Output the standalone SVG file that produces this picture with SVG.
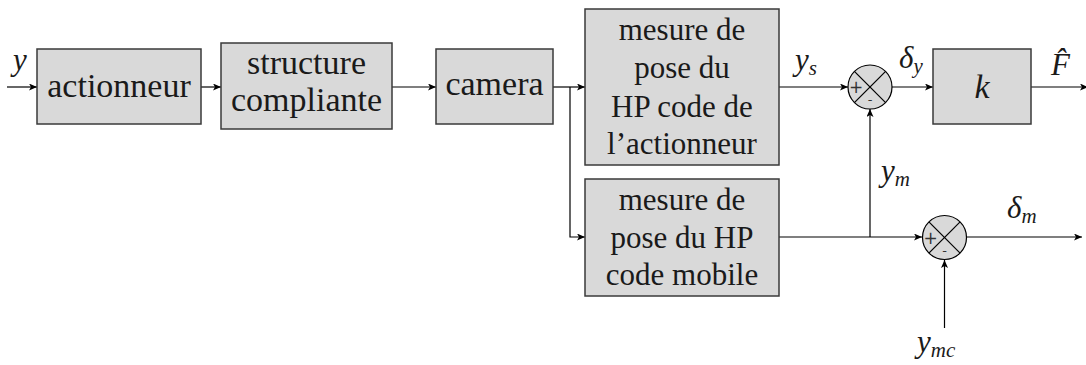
<svg xmlns="http://www.w3.org/2000/svg" width="1086" height="365" viewBox="0 0 1086 365">
<style>
.box{fill:#d9d9d9;stroke:#3a3a3a;stroke-width:1.5}
.sum{fill:#d9d9d9;stroke:#000;stroke-width:1.2}
.x{stroke:#000;stroke-width:1.2}
.w{fill:none;stroke:#000;stroke-width:1.2}
</style>
<defs>
<marker id="ar" markerUnits="userSpaceOnUse" markerWidth="10" markerHeight="8" refX="8" refY="3.5" orient="auto">
<path d="M0,0 L8,3.5 L0,7 L2,3.5 z" fill="#000"/>
</marker>
</defs>
<g id="connectors">
<line class="w" x1="7" y1="87" x2="37" y2="87" marker-end="url(#ar)"/>
<line class="w" x1="201" y1="87" x2="221" y2="87" marker-end="url(#ar)"/>
<line class="w" x1="392" y1="87" x2="436" y2="87" marker-end="url(#ar)"/>
<line class="w" x1="553" y1="87" x2="585" y2="87" marker-end="url(#ar)"/>
<polyline class="w" points="570,87 570,237 585,237" marker-end="url(#ar)"/>
<line class="w" x1="779" y1="87" x2="848" y2="87" marker-end="url(#ar)"/>
<line class="w" x1="892" y1="87" x2="933" y2="87" marker-end="url(#ar)"/>
<line class="w" x1="1031" y1="87" x2="1088" y2="87" marker-end="url(#ar)"/>
<line class="w" x1="870" y1="237" x2="870" y2="109" marker-end="url(#ar)"/>
<line class="w" x1="779" y1="237" x2="922" y2="237" marker-end="url(#ar)"/>
<line class="w" x1="967" y1="237" x2="1082" y2="237" marker-end="url(#ar)"/>
<line class="w" x1="944.5" y1="328" x2="944.5" y2="260" marker-end="url(#ar)"/>
</g>
<g font-family="Liberation Serif, DejaVu Serif, serif" fill="#1a1a1a" text-anchor="middle">
<g id="actionneur">
<rect class="box" x="37" y="49" width="164" height="75"/>
<text x="119" y="97" font-size="34">actionneur</text>
</g>
<g id="structure">
<rect class="box" x="221" y="43" width="171" height="86"/>
<text x="306.5" y="74" font-size="34">structure</text>
<text x="306.5" y="111" font-size="34">compliante</text>
</g>
<g id="camera">
<rect class="box" x="436" y="49" width="117" height="75"/>
<text x="494.5" y="95" font-size="34">camera</text>
</g>
<g id="mesure1">
<rect class="box" x="585" y="9" width="194" height="156"/>
<text x="682" y="40" font-size="31">mesure de</text>
<text x="682" y="78" font-size="31">pose du</text>
<text x="682" y="117" font-size="31">HP code de</text>
<text x="682" y="154" font-size="31">l’actionneur</text>
</g>
<g id="mesure2">
<rect class="box" x="585" y="179" width="194" height="117"/>
<text x="682" y="210" font-size="31">mesure de</text>
<text x="682" y="248" font-size="31">pose du HP</text>
<text x="682" y="285" font-size="31">code mobile</text>
</g>
<g id="k">
<rect class="box" x="933" y="49" width="98" height="75"/>
<text x="982" y="98" font-size="34" font-style="italic">k</text>
</g>
</g>
<g id="sum1">
<circle class="sum" cx="870" cy="87" r="22"/>
<line class="x" x1="854.4" y1="71.4" x2="885.6" y2="102.6"/>
<line class="x" x1="854.4" y1="102.6" x2="885.6" y2="71.4"/>
<text x="856" y="93" font-size="17" font-family="DejaVu Sans, sans-serif" fill="#333" text-anchor="middle">+</text>
<text x="870" y="104" font-size="13" font-family="DejaVu Sans, sans-serif" fill="#333" text-anchor="middle">-</text>
</g>
<g id="sum2">
<circle class="sum" cx="944.5" cy="237.5" r="22"/>
<line class="x" x1="928.9" y1="221.9" x2="960.1" y2="253.1"/>
<line class="x" x1="928.9" y1="253.1" x2="960.1" y2="221.9"/>
<text x="930.5" y="243.5" font-size="17" font-family="DejaVu Sans, sans-serif" fill="#333" text-anchor="middle">+</text>
<text x="944.5" y="254.5" font-size="13" font-family="DejaVu Sans, sans-serif" fill="#333" text-anchor="middle">-</text>
</g>
<g id="labels" font-family="Liberation Serif, DejaVu Serif, serif" font-style="italic" fill="#1a1a1a" font-size="31">
<text x="13" y="70">y</text>
<text x="795" y="70">y<tspan font-size="21" dy="5">s</tspan></text>
<text x="899" y="68">δ<tspan font-size="21" dy="5">y</tspan></text>
<text x="1051" y="75">F̂</text>
<text x="881" y="181">y<tspan font-size="21" dy="5">m</tspan></text>
<text x="1007" y="218">δ<tspan font-size="21" dy="5">m</tspan></text>
<text x="917" y="352">y<tspan font-size="21" dy="5">mc</tspan></text>
</g>
</svg>
